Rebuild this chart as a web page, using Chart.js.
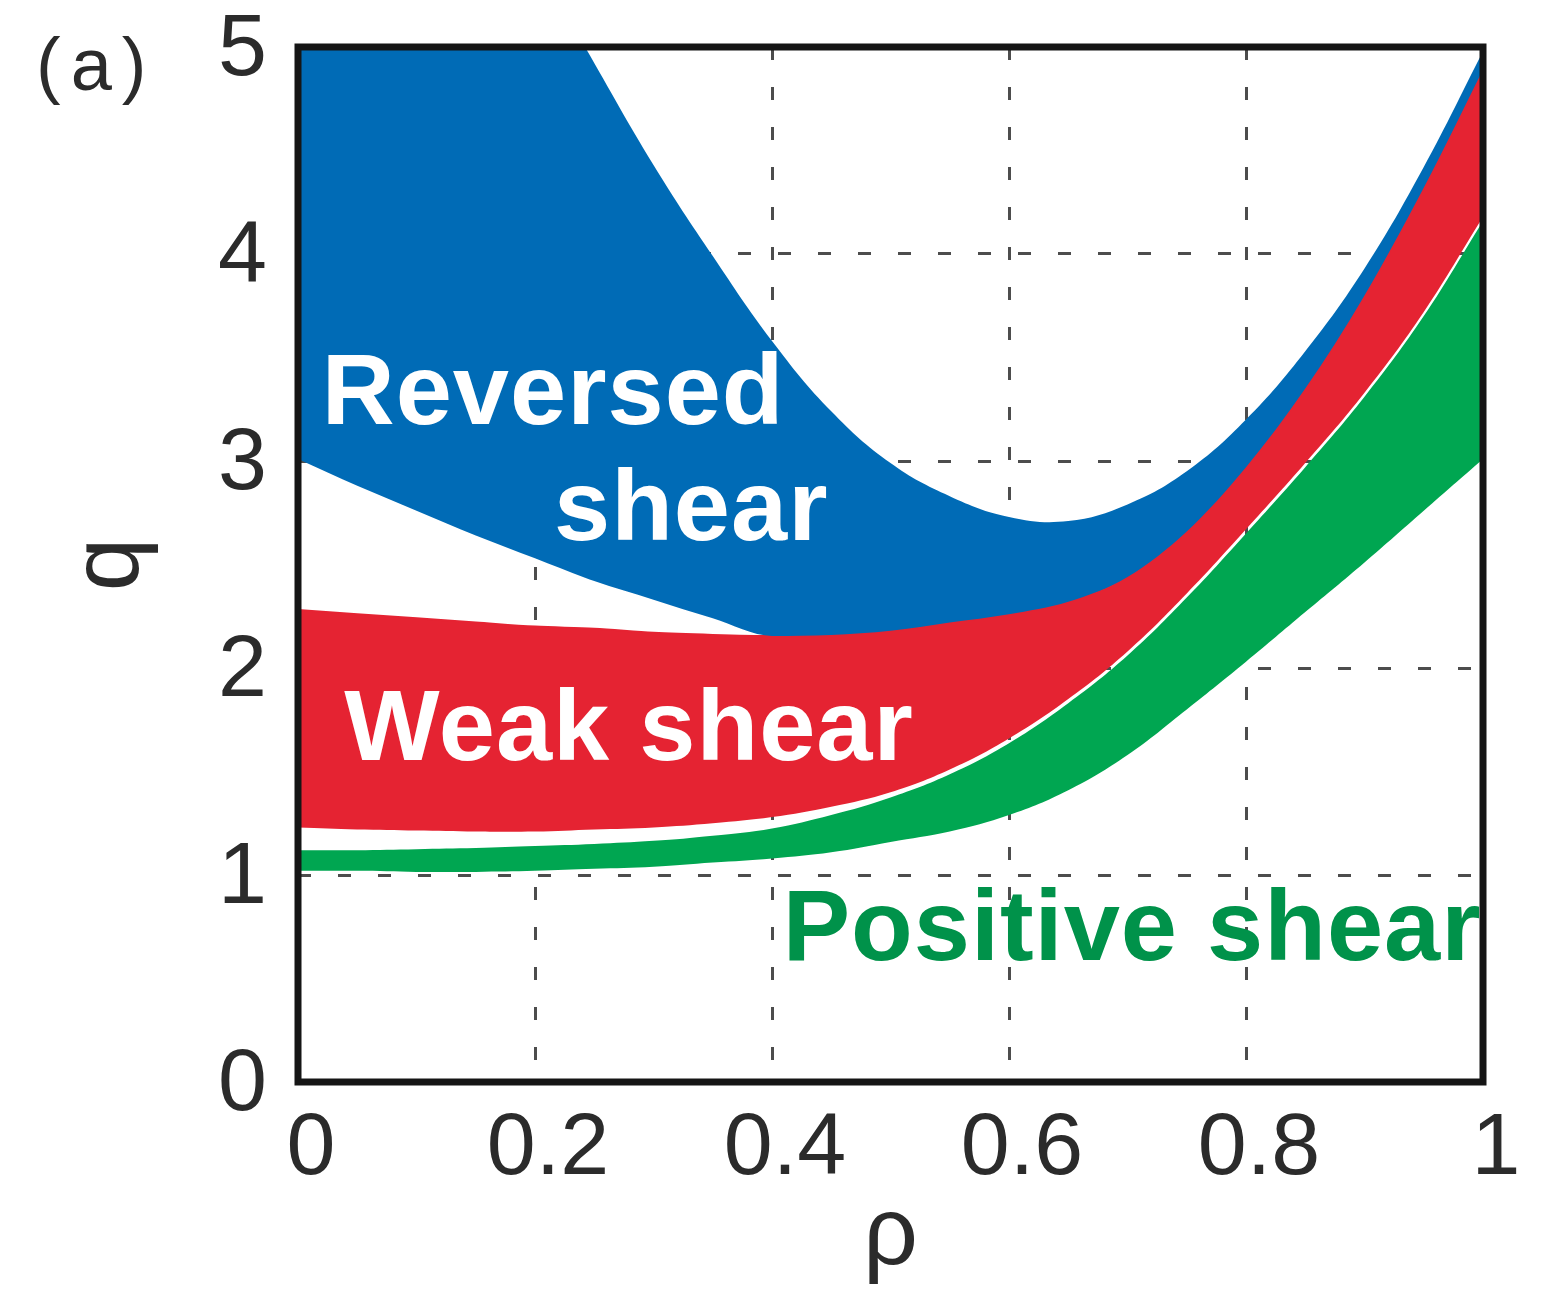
<!DOCTYPE html>
<html>
<head>
<meta charset="utf-8">
<title>q profile regimes</title>
<script src="https://cdn.jsdelivr.net/npm/chart.js@4.4.1/dist/chart.umd.min.js"></script>
<style>
  html, body { margin: 0; padding: 0; background: #ffffff; }
  canvas { display: block; }
</style>
</head>
<body>
<canvas id="qchart" width="1547" height="1295"></canvas>
<script>
// Normalised radius ρ at which the band edges are sampled
const rho = [0, 0.05, 0.1, 0.15, 0.2, 0.25, 0.3, 0.35, 0.4, 0.45, 0.5,
             0.55, 0.6, 0.65, 0.7, 0.75, 0.8, 0.85, 0.9, 0.95, 1];

// Reversed shear band: its upper edge leaves the q = 5 frame at ρ ≈ 0.242
const reversedTopRho = [0, 0.2422];
const reversedTop = [5, 5];
const reversedUpperRho = [0.2422, 0.3, 0.35, 0.4, 0.45, 0.5, 0.55, 0.6, 0.65,
                          0.7, 0.75, 0.8, 0.85, 0.9, 0.95, 1];
const reversedUpper = [5, 4.43, 3.99, 3.58, 3.24, 2.99, 2.83, 2.73, 2.71,
                       2.79, 2.95, 3.20, 3.53, 3.93, 4.42, 4.98];
const reversedLower = [3.01, 2.88, 2.76, 2.64, 2.53, 2.42, 2.33, 2.24, 2.155, 2.16, 2.18,
                       2.22, 2.26, 2.32, 2.44, 2.66, 2.97, 3.35, 3.80, 4.32, 4.89];

// Weak shear band
const weakUpper = [2.28, 2.26, 2.24, 2.22, 2.20, 2.19, 2.17, 2.16, 2.155, 2.16, 2.18,
                   2.22, 2.26, 2.32, 2.44, 2.66, 2.97, 3.35, 3.80, 4.32, 4.89];
const weakLower = [1.23, 1.22, 1.215, 1.21, 1.21, 1.22, 1.23, 1.25, 1.28, 1.33, 1.40,
                   1.51, 1.66, 1.85, 2.08, 2.36, 2.67, 2.99, 3.33, 3.72, 4.18];

// Positive shear band
const positiveUpper = [1.12, 1.12, 1.125, 1.13, 1.14, 1.15, 1.165, 1.19, 1.225, 1.29, 1.375,
                       1.487, 1.637, 1.83, 2.06, 2.34, 2.65, 2.97, 3.31, 3.70, 4.16];
const positiveLower = [1.02, 1.02, 1.015, 1.015, 1.02, 1.03, 1.04, 1.06, 1.08, 1.11, 1.16,
                       1.21, 1.29, 1.41, 1.58, 1.80, 2.03, 2.27, 2.51, 2.76, 3.01];

// Axis tick labels
const xTickLabels = ['0', '0.2', '0.4', '0.6', '0.8', '1'];
const yTickLabels = ['0', '1', '2', '3', '4', '5'];

// Region names, placed in (ρ, q) coordinates
const regionLabels = [
  { text: 'Reversed',       rho: 0.020, q: 3.18,  kind: 'light' },
  { text: 'shear',          rho: 0.216, q: 2.62,  kind: 'light' },
  { text: 'Weak shear',     rho: 0.039, q: 1.556, kind: 'light' },
  { text: 'Positive shear', rho: 0.409, q: 0.589, kind: 'green' }
];

const FONT = '"Liberation Sans", Arial, Helvetica, sans-serif';
const BLUE = '#006BB6';
const RED = '#E52332';
const GREEN = '#00A651';
const GREEN_TEXT = '#00924A';
const INK = '#2b2b2b';
const NONE = 'rgba(0,0,0,0)';

function toPoints(xs, values) {
  return xs.map((r, i) => ({ x: r, y: values[i] }));
}

// Smooth spline edge; shared edges use monotone interpolation so they coincide exactly
function edge(label, xs, values, extra) {
  return Object.assign({
    label: label,
    data: toPoints(xs, values),
    borderColor: NONE,
    borderWidth: 0,
    backgroundColor: NONE,
    pointRadius: 0,
    pointHoverRadius: 0,
    fill: false,
    cubicInterpolationMode: 'default',
    tension: 0.4,
    clip: 0
  }, extra || {});
}

// Frame, region names and panel tag
const decorations = {
  id: 'decorations',
  afterDatasetsDraw(chart) {
    const { ctx, chartArea, scales } = chart;
    ctx.save();
    ctx.font = 'bold 101px ' + FONT;
    ctx.letterSpacing = '1px';
    ctx.textAlign = 'left';
    ctx.textBaseline = 'alphabetic';
    regionLabels.forEach(l => {
      ctx.fillStyle = l.kind === 'green' ? GREEN_TEXT : '#ffffff';
      ctx.fillText(l.text, scales.x.getPixelForValue(l.rho), scales.y.getPixelForValue(l.q));
    });
    ctx.letterSpacing = '0px';
    ctx.lineWidth = 7;
    ctx.strokeStyle = '#151515';
    ctx.strokeRect(chartArea.left, chartArea.top,
                   chartArea.right - chartArea.left, chartArea.bottom - chartArea.top);
    ctx.restore();
  },
  afterDraw(chart) {
    const { ctx, chartArea } = chart;
    ctx.save();
    ctx.font = '74px ' + FONT;
    ctx.letterSpacing = '10px';
    ctx.fillStyle = INK;
    ctx.textAlign = 'left';
    ctx.textBaseline = 'alphabetic';
    ctx.fillText('(a)', chartArea.left - 262, chartArea.top + 43);
    ctx.restore();
  }
};

new Chart(document.getElementById('qchart'), {
  type: 'line',
  data: {
    datasets: [
      // 0: frame-side top of the reversed shear band, filled down to its lower edge (2)
      edge('Reversed shear (top)', reversedTopRho, reversedTop,
           { fill: 2, backgroundColor: BLUE, tension: 0 }),
      // 1: curved upper edge of the reversed shear band
      edge('Reversed shear (upper)', reversedUpperRho, reversedUpper,
           { fill: 2, backgroundColor: BLUE }),
      // 2
      edge('Reversed shear (lower)', rho, reversedLower,
           { cubicInterpolationMode: 'monotone' }),
      // 3
      edge('Weak shear (upper)', rho, weakUpper,
           { fill: '+1', backgroundColor: RED, borderColor: RED, borderWidth: 2,
             cubicInterpolationMode: 'monotone' }),
      // 4
      edge('Weak shear (lower)', rho, weakLower),
      // 5
      edge('Positive shear (upper)', rho, positiveUpper, { fill: '+1', backgroundColor: GREEN }),
      // 6
      edge('Positive shear (lower)', rho, positiveLower)
    ]
  },
  options: {
    responsive: false,
    animation: false,
    events: [],
    layout: { padding: { top: 47, right: 64, left: 0, bottom: 0 } },
    plugins: {
      legend: { display: false },
      tooltip: { enabled: false },
      filler: { propagate: false }
    },
    scales: {
      x: {
        type: 'linear',
        min: 0,
        max: 1,
        ticks: {
          stepSize: 0.2,
          autoSkip: false,
          maxRotation: 0,
          callback: (v, i) => xTickLabels[i],
          font: { family: FONT, size: 88 },
          color: INK,
          padding: 15,
          labelOffset: 13
        },
        grid: { color: '#4d4d4d', lineWidth: 3, drawTicks: false },
        border: { display: false, dash: [13, 27] },
        title: {
          display: true,
          text: 'ρ',
          font: { family: FONT, size: 96 },
          color: INK,
          padding: { top: 0, bottom: 0 }
        },
        afterFit: s => {
          s.height = 213;
          s.paddingLeft = 0;
          s.paddingRight = 0;
        }
      },
      y: {
        type: 'linear',
        min: 0,
        max: 5,
        ticks: {
          stepSize: 1,
          autoSkip: false,
          callback: (v, i) => yTickLabels[i],
          font: { family: FONT, size: 88 },
          color: INK,
          padding: 31,
          labelOffset: 4
        },
        grid: { color: '#4d4d4d', lineWidth: 3, drawTicks: false },
        border: { display: false, dash: [13, 27] },
        title: {
          display: true,
          text: 'q',
          font: { family: FONT, size: 96 },
          color: INK,
          padding: { top: 54, bottom: 0 }
        },
        afterFit: s => {
          s.width = 298;
          s.paddingTop = 0;
          s.paddingBottom = 0;
        }
      }
    }
  },
  plugins: [decorations]
});
</script>
</body>
</html>
